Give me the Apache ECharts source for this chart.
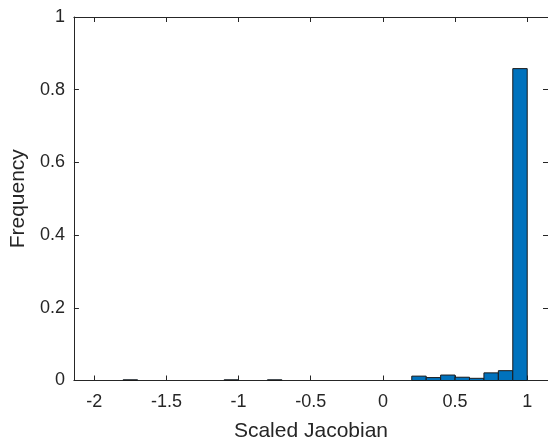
<!DOCTYPE html>
<html>
<head>
<meta charset="utf-8">
<script src="https://cdn.jsdelivr.net/npm/echarts@6/dist/echarts.min.js"></script>
<style>
  html, body { margin: 0; padding: 0; background: #fff; }
  #chart { width: 548px; height: 447px; }
</style>
</head>
<body>
<div id="chart"></div>
<script>
// histogram bins (left edge, width 0.1) and frequencies
var binStart = [-1.8, -1.1, -0.8, 0.2, 0.3, 0.4, 0.5, 0.6, 0.7, 0.8, 0.9];
var binWidth = 0.1;
var freq = [0.002, 0.002, 0.002, 0.012, 0.008, 0.015, 0.009, 0.006, 0.021, 0.027, 0.858];
var xTicks = [-2, -1.5, -1, -0.5, 0, 0.5, 1];

var axisColor = '#262626';
var textFont = 'Liberation Sans, Arial, sans-serif';

var bars = [];
for (var i = 0; i < binStart.length; i++) {
  bars.push([binStart[i], binStart[i] + binWidth, freq[i]]);
}

function baseX(show) {
  return {
    type: 'value', min: -2.141, max: 1.144,
    axisLine: { show: true, onZero: false, lineStyle: { color: axisColor, width: 1 } },
    axisTick: { show: true, inside: true, length: 5, customValues: xTicks, lineStyle: { color: axisColor } },
    axisLabel: { show: show, customValues: xTicks, margin: 13, color: axisColor, fontSize: 18, fontFamily: textFont },
    splitLine: { show: false }
  };
}
function baseY(show) {
  return {
    type: 'value', min: 0, max: 1, interval: 0.2,
    axisLine: { show: true, onZero: false, lineStyle: { color: axisColor, width: 1 } },
    axisTick: { show: true, inside: true, length: 5, lineStyle: { color: axisColor } },
    axisLabel: { show: show, margin: 9, color: axisColor, fontSize: 18, fontFamily: textFont },
    splitLine: { show: false }
  };
}

var xBottom = baseX(true);
xBottom.position = 'bottom';
xBottom.name = 'Scaled Jacobian';
xBottom.nameLocation = 'middle';
xBottom.nameGap = 40;
xBottom.nameTextStyle = { color: axisColor, fontSize: 21, fontFamily: textFont };
var xTop = baseX(false);
xTop.position = 'top';

var yLeft = baseY(true);
yLeft.position = 'left';
yLeft.name = 'Frequency';
yLeft.nameLocation = 'middle';
yLeft.nameGap = 36;
yLeft.nameTextStyle = { color: axisColor, fontSize: 21, fontFamily: textFont };
var yRight = baseY(false);
yRight.position = 'right';

var chart = echarts.init(document.getElementById('chart'));
chart.setOption({
  animation: false,
  grid: { left: 72, top: 17, right: -2, bottom: 66.5, containLabel: false },
  xAxis: [xBottom, xTop],
  yAxis: [yLeft, yRight],
  series: [{
    type: 'custom',
    xAxisIndex: 0,
    yAxisIndex: 0,
    data: bars,
    encode: { x: [0, 1], y: 2 },
    renderItem: function (params, api) {
      var p0 = api.coord([api.value(0), 0]);
      var p1 = api.coord([api.value(1), api.value(2)]);
      return {
        type: 'rect',
        shape: { x: p0[0], y: p1[1], width: p1[0] - p0[0], height: p0[1] - p1[1] },
        style: { fill: '#0072BD', stroke: '#1a1a1a', lineWidth: 1 }
      };
    }
  }]
});
</script>
</body>
</html>
